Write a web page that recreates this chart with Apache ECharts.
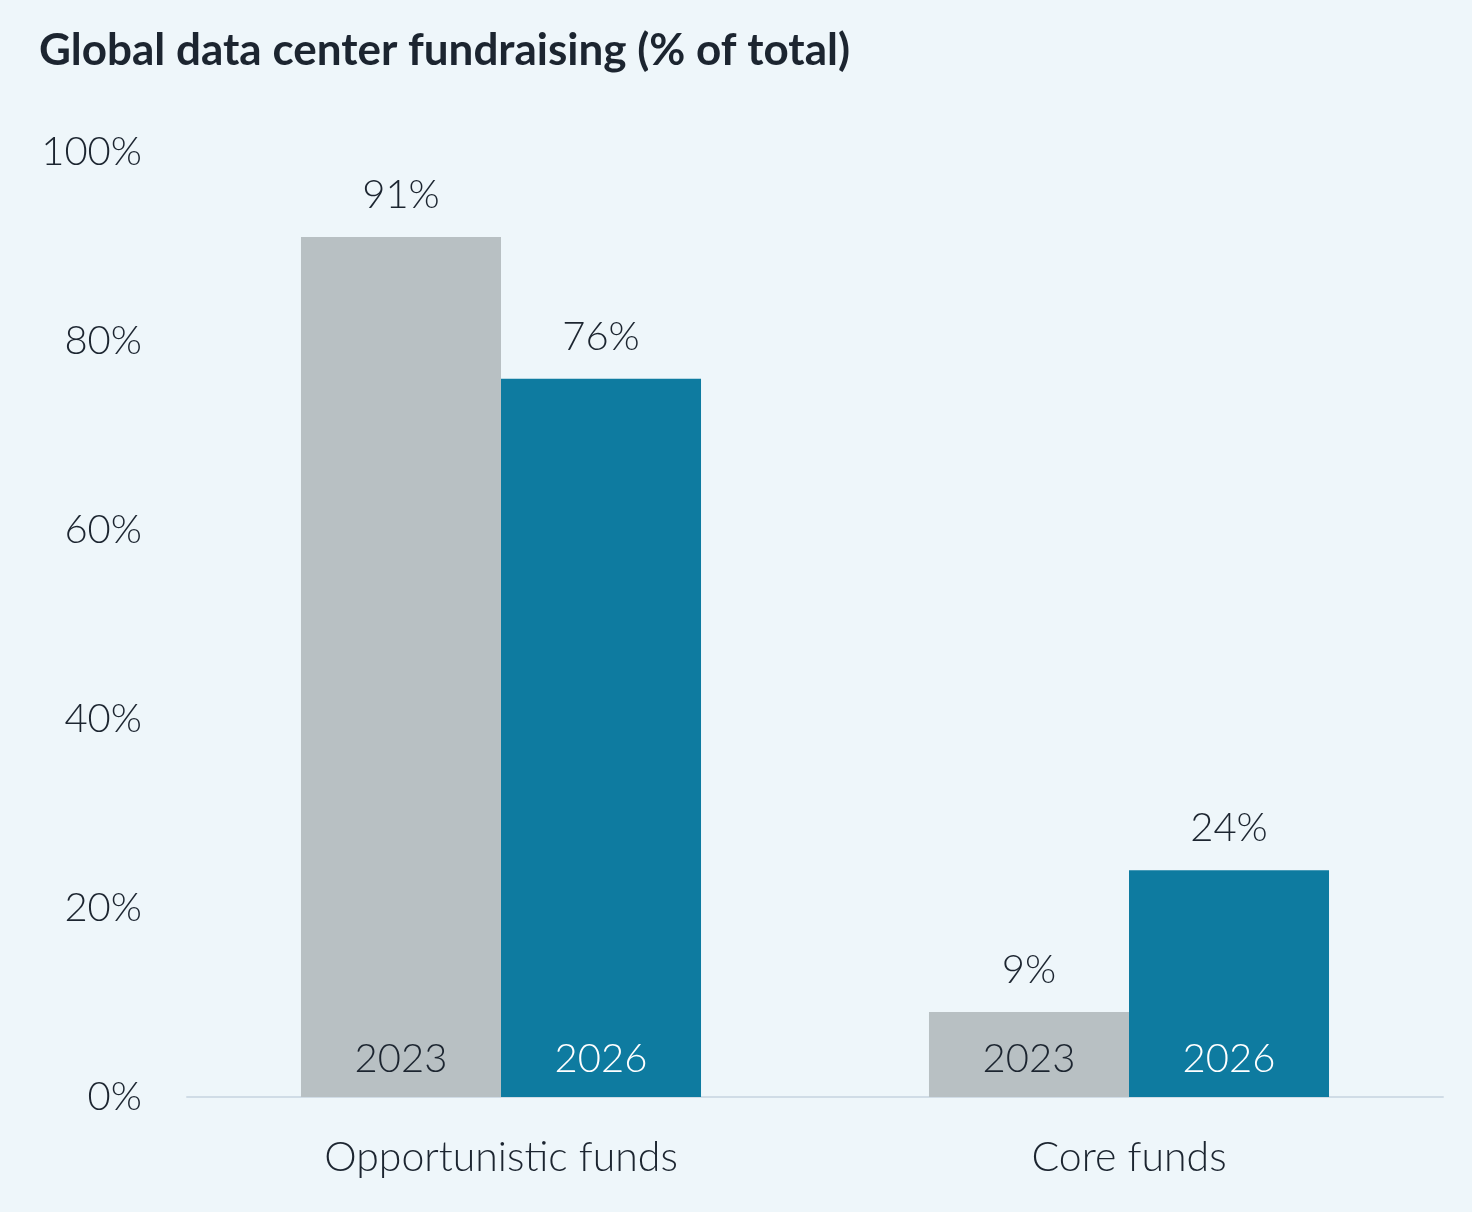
<!DOCTYPE html>
<html>
<head>
<meta charset="utf-8">
<script src="https://cdn.jsdelivr.net/npm/echarts@6/dist/echarts.min.js"></script>
<style>
  html, body { margin: 0; padding: 0; background: #eef6fa; }
  #chart { width: 1472px; height: 1212px; }
</style>
</head>
<body>
<div id="chart"></div>
<script>
const categories = ['Opportunistic funds', 'Core funds']
const years = ['2023', '2026']
const values2023 = [91, 9]
const values2026 = [76, 24]
const yTicks = [0, 20, 40, 60, 80, 100]

const font = 'Lato'
const textColor = '#1c2530'
const labelFont = {
  fontFamily: font,
  fontWeight: 300,
  fontSize: 40
}

const chart = echarts.init(document.getElementById('chart'))

// the bar itself carries the year label at its foot
const barSeries = (year, data, color, yearColor) => ({
  name: year,
  type: 'bar',
  stack: year,
  data,
  barGap: '0%',
  barCategoryGap: '36.3%',
  itemStyle: { color },
  label: {
    show: true,
    position: 'insideBottom',
    distance: 18,
    formatter: year,
    ...labelFont,
    color: yearColor
  }
})

// zero-height bar stacked on top, only to carry the value label
const valueSeries = (year, data) => ({
  name: year + ' value',
  type: 'bar',
  stack: year,
  data: data.map(() => 0),
  itemStyle: { color: 'transparent' },
  silent: true,
  label: {
    show: true,
    position: 'top',
    distance: 22,
    formatter: p => data[p.dataIndex] + '%',
    ...labelFont,
    color: textColor
  }
})

chart.setOption({
  backgroundColor: '#eef6fa',
  animation: false,
  title: {
    text: 'Global data center fundraising (% of total)',
    left: 34,
    top: 24,
    textStyle: {
      fontFamily: font,
      fontWeight: 'bold',
      fontSize: 44,
      color: textColor
    }
  },
  grid: {
    left: 187,
    right: 29,
    top: 152,
    bottom: 115
  },
  xAxis: {
    type: 'category',
    data: categories,
    axisLine: { lineStyle: { color: '#d0dce6', width: 2 } },
    axisTick: { show: false },
    axisLabel: {
      margin: 40,
      ...labelFont,
      fontSize: 41,
      color: textColor
    }
  },
  yAxis: {
    type: 'value',
    min: yTicks[0],
    max: yTicks[yTicks.length - 1],
    interval: 20,
    axisLine: { show: false },
    axisTick: { show: false },
    splitLine: { show: false },
    axisLabel: {
      margin: 45,
      formatter: '{value}%',
      ...labelFont,
      color: textColor
    }
  },
  series: [
    barSeries(years[0], values2023, '#b8c0c3', textColor),
    valueSeries(years[0], values2023),
    barSeries(years[1], values2026, '#0e7ba0', '#ffffff'),
    valueSeries(years[1], values2026)
  ]
})
</script>
</body>
</html>
